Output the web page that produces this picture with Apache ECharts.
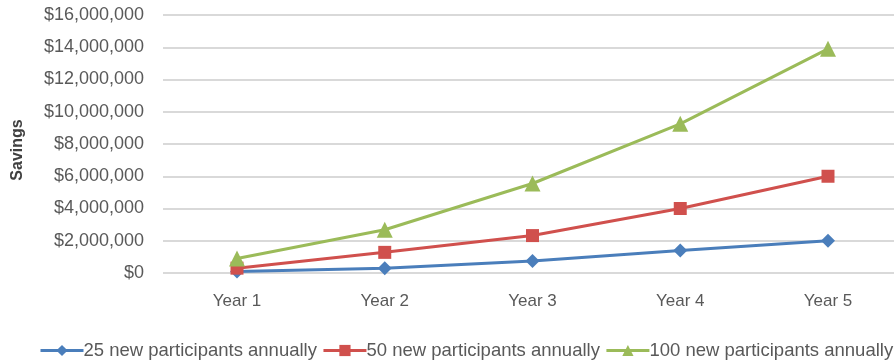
<!DOCTYPE html>
<html>
<head>
<meta charset="utf-8">
<script src="https://cdn.jsdelivr.net/npm/echarts@6/dist/echarts.min.js"></script>
<style>
html,body{margin:0;padding:0;background:#fff;}
#chart{width:894px;height:360px;}
</style>
</head>
<body>
<div id="chart"></div>
<script>
const categories = ['Year 1', 'Year 2', 'Year 3', 'Year 4', 'Year 5'];
const seriesNames = ['25 new participants annually', '50 new participants annually', '100 new participants annually'];
const s25 = [100000, 300000, 740000, 1400000, 2000000];
const s50 = [300000, 1280000, 2320000, 4000000, 6000000];
const s100 = [900000, 2680000, 5550000, 9250000, 13900000];
const yTicks = { min: 0, max: 16000000, interval: 2000000 };
const yTitle = 'Savings';

const font = 'Liberation Sans';
const textColor = '#595959';
const gridColor = '#d9d9d9';

const chart = echarts.init(document.getElementById('chart'), null, { renderer: 'canvas' });
chart.setOption({
  animation: false,
  backgroundColor: '#ffffff',
  grid: [
    { left: 163, right: 0, top: 15, bottom: 87, containLabel: false },
    { left: 237, right: 66, top: 15, bottom: 87, containLabel: false }
  ],
  graphic: [{
    type: 'text', x: 18, y: 150, rotation: Math.PI / 2,
    style: { text: yTitle, font: 'bold 16px "Liberation Sans"', fill: '#404040', align: 'center', verticalAlign: 'middle' }
  }],
  legend: {
    left: 39,
    top: 341,
    width: 870,
    itemWidth: 43,
    itemHeight: 14,
    itemGap: 5,
    padding: 0,
    lineStyle: { width: 3 },
    textStyle: { fontFamily: font, fontSize: 18.5, color: textColor, padding: [0, 0, 0, -5] },
    data: seriesNames
  },
  xAxis: [
    {
      gridIndex: 0, type: 'value', min: 0, max: 1,
      show: false
    },
    {
      gridIndex: 1,
      type: 'category',
      data: categories,
      boundaryGap: false,
      axisLine: { show: false },
      axisTick: { show: false },
      axisLabel: { fontFamily: font, fontSize: 17, color: textColor, margin: 20 },
      splitLine: { show: false }
    }
  ],
  yAxis: [
    {
      gridIndex: 0,
      type: 'value',
      min: yTicks.min,
      max: yTicks.max,
      interval: yTicks.interval,
      axisLine: { show: false },
      axisTick: { show: false },
      axisLabel: {
        fontFamily: font, fontSize: 18, color: textColor, margin: 19,
        formatter: v => '$' + v.toLocaleString('en-US')
      },
      splitLine: { show: true, lineStyle: { color: gridColor, width: 2 } }
    },
    {
      gridIndex: 1,
      type: 'value',
      min: yTicks.min,
      max: yTicks.max,
      interval: yTicks.interval,
      show: false,
      splitLine: { show: false }
    }
  ],
  series: [
    {
      name: seriesNames[0], type: 'line', data: s25, xAxisIndex: 1, yAxisIndex: 1,
      symbol: 'diamond', symbolSize: 14, showAllSymbol: true,
      lineStyle: { width: 3, color: '#4A7EBB' },
      itemStyle: { color: '#4A7EBB' }
    },
    {
      name: seriesNames[1], type: 'line', data: s50, xAxisIndex: 1, yAxisIndex: 1,
      symbol: 'rect', symbolSize: 13, showAllSymbol: true,
      lineStyle: { width: 3, color: '#D0504D' },
      itemStyle: { color: '#D0504D' }
    },
    {
      name: seriesNames[2], type: 'line', data: s100, xAxisIndex: 1, yAxisIndex: 1,
      symbol: 'triangle', symbolSize: 16, showAllSymbol: true,
      lineStyle: { width: 3, color: '#9BBB59' },
      itemStyle: { color: '#9BBB59' }
    }
  ]
});
</script>
</body>
</html>
